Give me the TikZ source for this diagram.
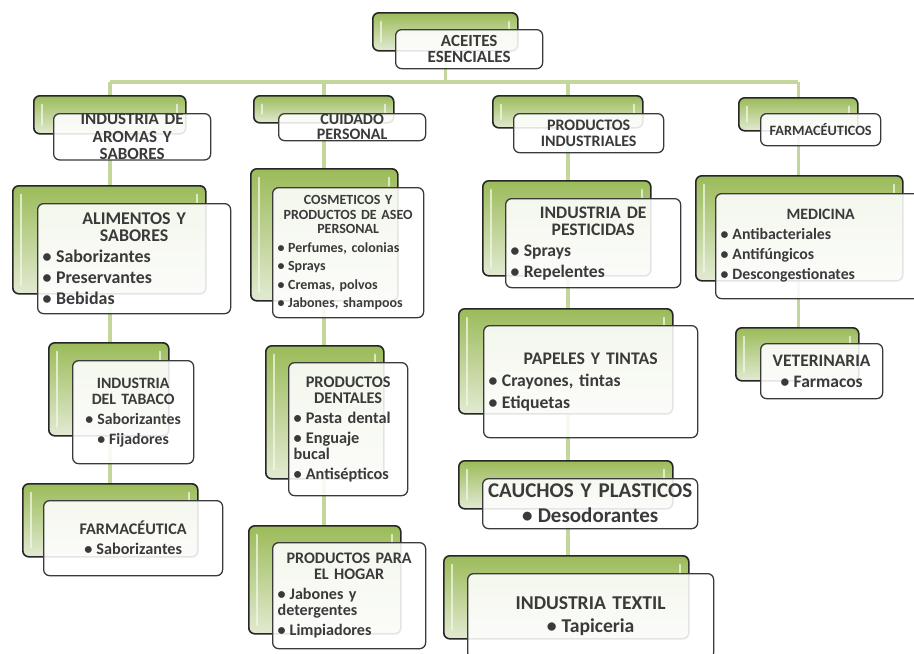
\documentclass[tikz,border=0pt]{standalone}
\usepackage{fontspec}
\setmainfont{Carlito}
\usetikzlibrary{positioning, backgrounds}
\definecolor{leaf}{HTML}{9BBB59}
\definecolor{leafpale}{HTML}{E2EAD2}
\definecolor{stem}{HTML}{C3D69B}
\definecolor{ink}{HTML}{3A3A3A}
\definecolor{rim}{HTML}{262626}
\definecolor{gloss}{HTML}{F2F7E6}
\hyphenpenalty=10000 \exhyphenpenalty=10000
\newcommand{\hd}[1]{{\centering #1\par}}
\newcommand{\bul}[1]{{\leftskip=5pt \textbullet\hspace{0.25em}#1\par}}
\newcommand{\cit}[1]{{\centering \textbullet\hspace{0.25em}#1\par}}
\tikzset{
  back/.style 2 args={draw=rim, line width=1.6pt, rounded corners=6pt,
                      top color=leaf, bottom color=leafpale, anchor=north west,
                      minimum width=#1pt, minimum height=#2pt, inner sep=0pt,
                      path picture={
                        \draw[gloss, line width=2.5pt, opacity=0.75, line cap=round]
                          ([shift={(8pt,-9pt)}]path picture bounding box.north west)
                          -- ([shift={(8pt,9pt)}]path picture bounding box.south west);
                        \draw[gloss, line width=2.5pt, opacity=0.75, line cap=round]
                          ([shift={(-9pt,-9pt)}]path picture bounding box.north east)
                          -- ([shift={(-9pt,-17pt)}]path picture bounding box.north east);
                      }},
  card/.style 2 args={draw=ink, line width=1.3pt, rounded corners=6pt, fill=white,
                      fill opacity=0.88, text opacity=1, text=ink, anchor=north west,
                      text width=#1pt, minimum height=#2pt, inner xsep=0pt, inner ysep=0pt,
                      align=left},
  fs/.style 2 args={font=\fontsize{#1}{#2}\selectfont\bfseries\setlength{\parskip}{4pt}},
  link/.style={draw=stem, line width=3.5pt},
}

\begin{document}
\begin{tikzpicture}[x=1pt, y=-1pt]
\useasboundingbox (0,0) rectangle (914,654);

% ---------------- root ----------------
\node[back={145}{38}] (ace-b) at (372,12) {};
\node[card={147}{39}, fs={17}{16}] (ace) at (395,29) {\hd{ACEITES\\ESENCIALES}};

% ---------------- first level ----------------
\node[back={152}{38}] (arom-b) at (33,95) {};
\node[card={157}{44}, fs={17}{17.5}] (arom) at (53,113) {\hd{INDUSTRIA DE\\AROMAS Y\\SABORES}};
\node[back={140}{27}] (cuid-b) at (253,95) {};
\node[card={147}{27}, fs={16}{15}] (cuid) at (278,113) {\hd{CUIDADO\\PERSONAL}};
\node[back={150}{32}] (indu-b) at (492,95) {};
\node[card={150}{39}, fs={16}{15.5}] (indu) at (513,113) {\hd{PRODUCTOS\\INDUSTRIALES}};
\node[back={119}{33}] (farm-b) at (738,97) {};
\node[card={120}{32}, fs={14.3}{15}] (farm) at (760,113) {\hd{FARMACÉUTICOS}};

% ---------------- second level ----------------
\node[back={193}{108}] (alim-b) at (12,185) {};
\node[card={193}{110}, fs={17.9}{17}] (alim) at (37,203)
  {\hd{ALIMENTOS Y\\SABORES}\bul{Saborizantes}\bul{Preservantes}\bul{Bebidas}};
\node[back={147}{132}] (cosm-b) at (250,168) {};
\node[card={151}{130}, fs={14}{14.5}] (cosm) at (272,187)
  {\hd{COSMETICOS Y\\PRODUCTOS DE ASEO\\PERSONAL}\bul{Perfumes, colonias}\bul{Sprays}\bul{Cremas, polvos}\bul{Jabones, shampoos}};
\node[back={168}{95}] (pest-b) at (482,180) {};
\node[card={175}{89}, fs={17.6}{17}] (pest) at (505,198)
  {\hd{INDUSTRIA DE\\PESTICIDAS}\bul{Sprays}\bul{Repelentes}};
\node[back={207}{105}] (medi-b) at (695,175) {};
\node[card={210}{105}, fs={15.8}{16}] (medi) at (715,193)
  {\hd{MEDICINA}\bul{Antibacteriales}\bul{Antifúngicos}\bul{Descongestionates}};

% ---------------- third level ----------------
\node[back={120}{93}] (taba-b) at (48,342) {};
\node[card={121}{103}, fs={15.8}{16}] (taba) at (72,360)
  {\hd{INDUSTRIA\\DEL TABACO}\cit{Saborizantes}\cit{Fijadores}};
\node[back={175}{73}] (fcta-b) at (22,483) {};
\node[card={179}{75}, fs={16.2}{16}] (fcta) at (43,500)
  {\hd{FARMACÉUTICA}\cit{Saborizantes}};
\node[back={118}{133}] (dent-b) at (265,345) {};
\node[card={119}{133}, fs={16.3}{16}] (dent) at (288,362)
  {\hd{PRODUCTOS\\DENTALES}\bul{Pasta dental}\bul{Enguaje\\bucal}\bul{Antisépticos}};
\node[back={152}{108}] (hogar-b) at (248,525) {};
\node[card={153}{106}, fs={16.1}{16}] (hogar) at (272,542)
  {\hd{PRODUCTOS PARA\\EL HOGAR}\bul{Jabones y\\detergentes}\bul{Limpiadores}};
\node[back={214}{105}] (pape-b) at (458,308) {};
\node[card={214}{112}, fs={17.7}{18}] (pape) at (483,325)
  {\hd{PAPELES Y TINTAS}\bul{Crayones, tintas}\bul{Etiquetas}};
\node[back={214}{48}] (cauc-b) at (458,460) {};
\node[card={215}{50}, fs={21}{21}] (cauc) at (482,478)
  {\hd{CAUCHOS Y PLASTICOS}\cit{Desodorantes}};
\node[back={245}{83}] (texl-b) at (443,555) {};
\node[card={246}{85}, fs={19.6}{19.5}] (texl) at (467,573)
  {\hd{INDUSTRIA TEXTIL}\cit{Tapiceria}};
\node[back={123}{53}] (vete-b) at (735,327) {};
\node[card={122}{55}, fs={17.5}{17.5}] (vete) at (760,343)
  {\hd{VETERINARIA}\cit{Farmacos}};

% ---------------- connectors ----------------
\begin{pgfonlayer}{background}
\coordinate (hub) at (ace-b.center |- 0,82);
\draw[link] (ace-b.center) -- (hub);
\draw[link] (arom-b.north |- hub) -- (farm-b.north |- hub);
\foreach \top/\bot in {arom/fcta, cuid/hogar, indu/texl, farm/vete}
  \draw[link] (\top-b.north |- hub) -- (\top-b.north |- \bot-b.north);
\end{pgfonlayer}

\end{tikzpicture}
\end{document}
